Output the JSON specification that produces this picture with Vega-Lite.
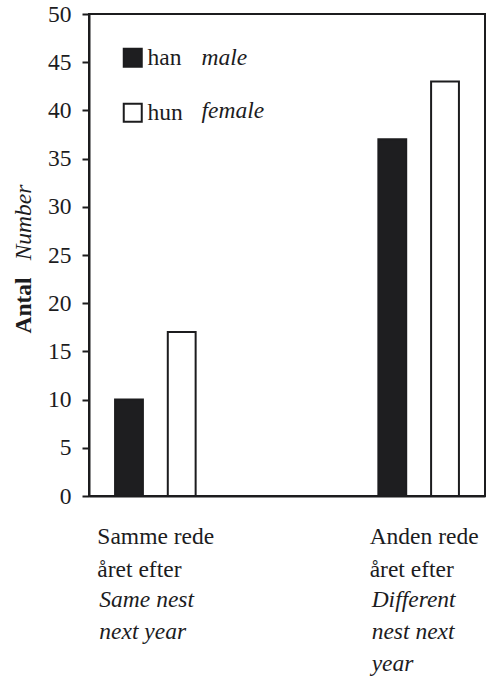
{
  "$schema": "https://vega.github.io/schema/vega-lite/v6.json",
  "width": 396,
  "height": 482,
  "autosize": "none",
  "padding": {"left": 89, "top": 14, "right": 3, "bottom": 180},
  "background": "white",
  "config": {
    "view": {"stroke": "#1c1c1e", "strokeWidth": 2},
    "font": "Liberation Serif",
    "axis": {
      "labelFont": "Liberation Serif",
      "titleFont": "Liberation Serif",
      "labelColor": "#1c1c1e",
      "titleColor": "#1c1c1e",
      "domainColor": "#1c1c1e",
      "tickColor": "#1c1c1e",
      "grid": false
    },
    "legend": {
      "labelFont": "Liberation Serif",
      "labelColor": "#1c1c1e",
      "labelFontSize": 23.5,
      "padding": 0
    }
  },
  "data": {
    "values": [
      {"situation": "Samme rede|året efter|Same nest|next year", "sex": "han", "sex_en": "male", "count": 10},
      {"situation": "Samme rede|året efter|Same nest|next year", "sex": "hun", "sex_en": "female", "count": 17},
      {"situation": "Anden rede|året efter|Different|nest next|year", "sex": "han", "sex_en": "male", "count": 37},
      {"situation": "Anden rede|året efter|Different|nest next|year", "sex": "hun", "sex_en": "female", "count": 43}
    ]
  },
  "layer": [
    {
      "mark": {"type": "bar", "stroke": "#1c1c1e", "strokeWidth": 2},
      "encoding": {
        "x": {
          "field": "situation",
          "type": "nominal",
          "sort": null,
          "scale": {"paddingInner": 0.694, "paddingOuter": 0.099},
          "axis": {
            "title": null,
            "orient": "bottom",
            "labelAngle": 0,
            "ticks": false,
            "tickSize": 0,
            "domain": true,
            "domainWidth": 2,
            "labelFontSize": 23.5,
            "labelAlign": "left",
            "labelBaseline": "alphabetic",
            "labelPadding": 47,
            "labelLineHeight": 33,
            "labelOffset": {"condition": {"test": "indexof(datum.value, 'Samme') >= 0", "value": -58}, "value": -49},
            "labelExpr": "[split(datum.value, '|')[0], split(datum.value, '|')[1]]"
          }
        },
        "xOffset": {
          "field": "sex",
          "type": "nominal",
          "sort": ["han", "hun"],
          "scale": {"paddingInner": 0.472, "paddingOuter": 0}
        },
        "y": {
          "field": "count",
          "type": "quantitative",
          "scale": {"domain": [0, 50], "nice": false},
          "axis": {
            "orient": "left",
            "values": [0, 5, 10, 15, 20, 25, 30, 35, 40, 45, 50],
            "title": "Antal",
            "titleFontWeight": "bold",
            "titleFontSize": 23.5,
            "titleAngle": -90,
            "titleAlign": "center",
            "titleBaseline": "middle",
            "titleX": -66,
            "titleY": 291,
            "labelFontSize": 23.5,
            "labelPadding": 11,
            "tickSize": 7,
            "tickWidth": 2,
            "domainWidth": 2
          }
        },
        "fill": {
          "field": "sex",
          "type": "nominal",
          "scale": {"domain": ["han", "hun"], "range": ["#1e1e20", "#ffffff"]},
          "legend": {
            "title": null,
            "orient": "none",
            "legendX": 32,
            "legendY": 32,
            "symbolType": "square",
            "symbolSize": 324,
            "symbolStrokeColor": "#1c1c1e",
            "symbolStrokeWidth": 2,
            "labelOffset": 3,
            "rowPadding": 28
          }
        }
      }
    },
    {
      "mark": {"type": "point", "opacity": 0, "size": 0},
      "encoding": {
        "x": {
          "field": "situation",
          "type": "nominal",
          "sort": null,
          "axis": {
            "title": null,
            "orient": "bottom",
            "offset": 63,
            "labelAngle": 0,
            "ticks": false,
            "tickSize": 0,
            "domain": false,
            "labelFontSize": 23.5,
            "labelFontStyle": "italic",
            "labelAlign": "left",
            "labelBaseline": "alphabetic",
            "labelPadding": 47,
            "labelLineHeight": 32,
            "labelOffset": {"condition": {"test": "indexof(datum.value, 'Samme') >= 0", "value": -56}, "value": -47},
            "labelExpr": "slice(split(datum.value, '|'), 2)"
          }
        },
        "xOffset": {"field": "sex", "type": "nominal", "sort": ["han", "hun"]},
        "y": {
          "field": "count",
          "type": "quantitative",
          "axis": {
            "orient": "left",
            "title": "Number",
            "titleFontStyle": "italic",
            "titleFontWeight": "normal",
            "titleFontSize": 23.5,
            "titleAngle": -90,
            "titleAlign": "center",
            "titleBaseline": "middle",
            "titleX": -66,
            "titleY": 208,
            "labels": false,
            "ticks": false,
            "domain": false
          }
        },
        "shape": {
          "field": "sex_en",
          "type": "nominal",
          "scale": {"domain": ["male", "female"], "range": ["square", "square"]},
          "legend": {
            "title": null,
            "orient": "none",
            "legendX": 86,
            "legendY": 32,
            "symbolSize": 324,
            "symbolOpacity": 0,
            "symbolStrokeWidth": 2,
            "labelOffset": 3,
            "labelFontStyle": "italic",
            "rowPadding": 28
          }
        }
      }
    }
  ],
  "resolve": {"axis": {"x": "independent", "y": "independent"}}
}
